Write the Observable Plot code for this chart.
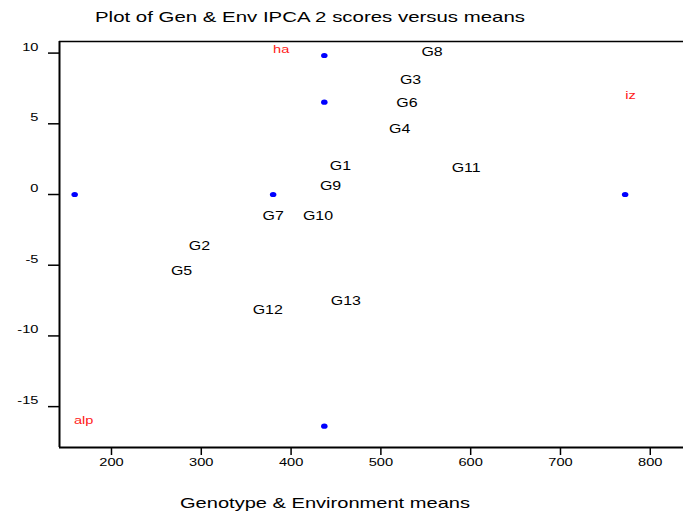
<!DOCTYPE html>
<html>
<head>
<meta charset="utf-8">
<script src="https://cdn.jsdelivr.net/npm/d3@7"></script>
<script src="https://cdn.jsdelivr.net/npm/@observablehq/plot@0.6"></script>
<style>
  html, body { margin: 0; padding: 0; background: #fff; }
  body { width: 683px; height: 513px; overflow: hidden; font-family: "Liberation Sans", Arial, sans-serif; }
  .title { position: relative; height: 34px; }
  .title span { position: absolute; left: 95px; top: 9px; font-size: 15px; line-height: 15px; color: #000; white-space: nowrap; transform-origin: 0 0; }
  .xlabel { position: relative; height: 35px; }
  .xlabel span { position: absolute; left: 180px; top: 17px; font-size: 15px; line-height: 15px; color: #000; white-space: nowrap; transform-origin: 0 0; }
  svg { display: block; }
</style>
</head>
<body>
<div class="title"><span id="title">Plot of Gen &amp; Env IPCA 2 scores versus means</span></div>
<div id="chart"></div>
<div class="xlabel"><span id="xlabel">Genotype &amp; Environment means</span></div>
<script>
// Blue markers
const dotX = [159, 380, 437, 437, 772, 437];
const dotY = [0, 0, 9.83, 6.53, 0, -16.38];

// Environment labels (red)
const envNames = ["ha", "iz", "alp"];
const envX = [389, 778, 169];
const envY = [10.28, 7.0, -15.95];

// Genotype labels (black)
const genNames = ["G8", "G3", "G6", "G4", "G1", "G11", "G9", "G7", "G10", "G2", "G5", "G12", "G13"];
const genX = [557, 533, 529, 521, 455, 595, 444, 380, 430, 298, 278, 374, 461];
const genY = [10.07, 8.09, 6.49, 4.62, 2.03, 1.84, 0.62, -1.56, -1.56, -3.65, -5.40, -8.15, -7.54];

// Axes
const xDomain = [142.1, 837];
const yDomain = [-17.89, 10.82];
const xTicks = [200, 300, 400, 500, 600, 700, 800];
const yTicks = [-15, -10, -5, 0, 5, 10];

const chart = Plot.plot({
  width: 683,
  height: 444,
  marginTop: 7,
  marginBottom: 31,
  marginLeft: 59,
  marginRight: 0,
  style: { fontFamily: "'Liberation Sans', Arial, sans-serif", background: "#fff", color: "#000" },
  x: { domain: xDomain, label: null },
  y: { domain: yDomain, label: null },
  marks: [
    Plot.axisX(xTicks, { tickSize: 8, tickPadding: 2.5, fontSize: 11, strokeWidth: 1.5, label: null, fill: "#000" }),
    Plot.axisY(yTicks, { tickSize: 11, tickFormat: () => "", strokeWidth: 1.5, label: null }),
    Plot.axisY(yTicks, { tickSize: 0, tickPadding: 21, dy: -6, fontSize: 11, label: null, fill: "#000", tickFormat: d => String(d) }),
    Plot.ruleX([xDomain[0]], { stroke: "#000", strokeWidth: 2 }),
    Plot.ruleY([yDomain[0]], { stroke: "#000", strokeWidth: 2 }),
    Plot.ruleY([yDomain[1]], { stroke: "#000", strokeWidth: 1.5 }),
    Plot.dot(dotX.map((x, i) => ({ x, y: dotY[i] })), { x: "x", y: "y", r: 2.6, fill: "#0000ff", stroke: "none" }),
    Plot.text(envNames, { x: (d, i) => envX[i], y: (d, i) => envY[i], text: d => d, fill: "#ff1a1a", fontSize: 11, textAnchor: "middle", lineAnchor: "middle" }),
    Plot.text(genNames, { x: (d, i) => genX[i], y: (d, i) => genY[i], text: d => d, fill: "#000", fontSize: 12, textAnchor: "middle", lineAnchor: "middle" })
  ]
});
document.getElementById("chart").appendChild(chart);

// Horizontal stretch of glyphs, as in the reference rendering
const S = 1.33;
chart.querySelectorAll("text").forEach(t => {
  const x = +t.getAttribute("x") || 0, y = +t.getAttribute("y") || 0;
  const tr = t.getAttribute("transform") || "";
  t.setAttribute("transform", `${tr} translate(${x},${y}) scale(${S},1) translate(${-x},${-y})`);
});
chart.querySelectorAll("circle").forEach(c => {
  const cx = +c.getAttribute("cx") || 0, cy = +c.getAttribute("cy") || 0;
  const tr = c.getAttribute("transform") || "";
  c.setAttribute("transform", `${tr} translate(${cx},${cy}) scale(1.25,1) translate(${-cx},${-cy})`);
});
function fit(id, target) {
  const el = document.getElementById(id);
  const w = el.getBoundingClientRect().width;
  el.style.transform = `scaleX(${target / w})`;
}
fit("title", 430);
fit("xlabel", 290);
</script>
</body>
</html>
